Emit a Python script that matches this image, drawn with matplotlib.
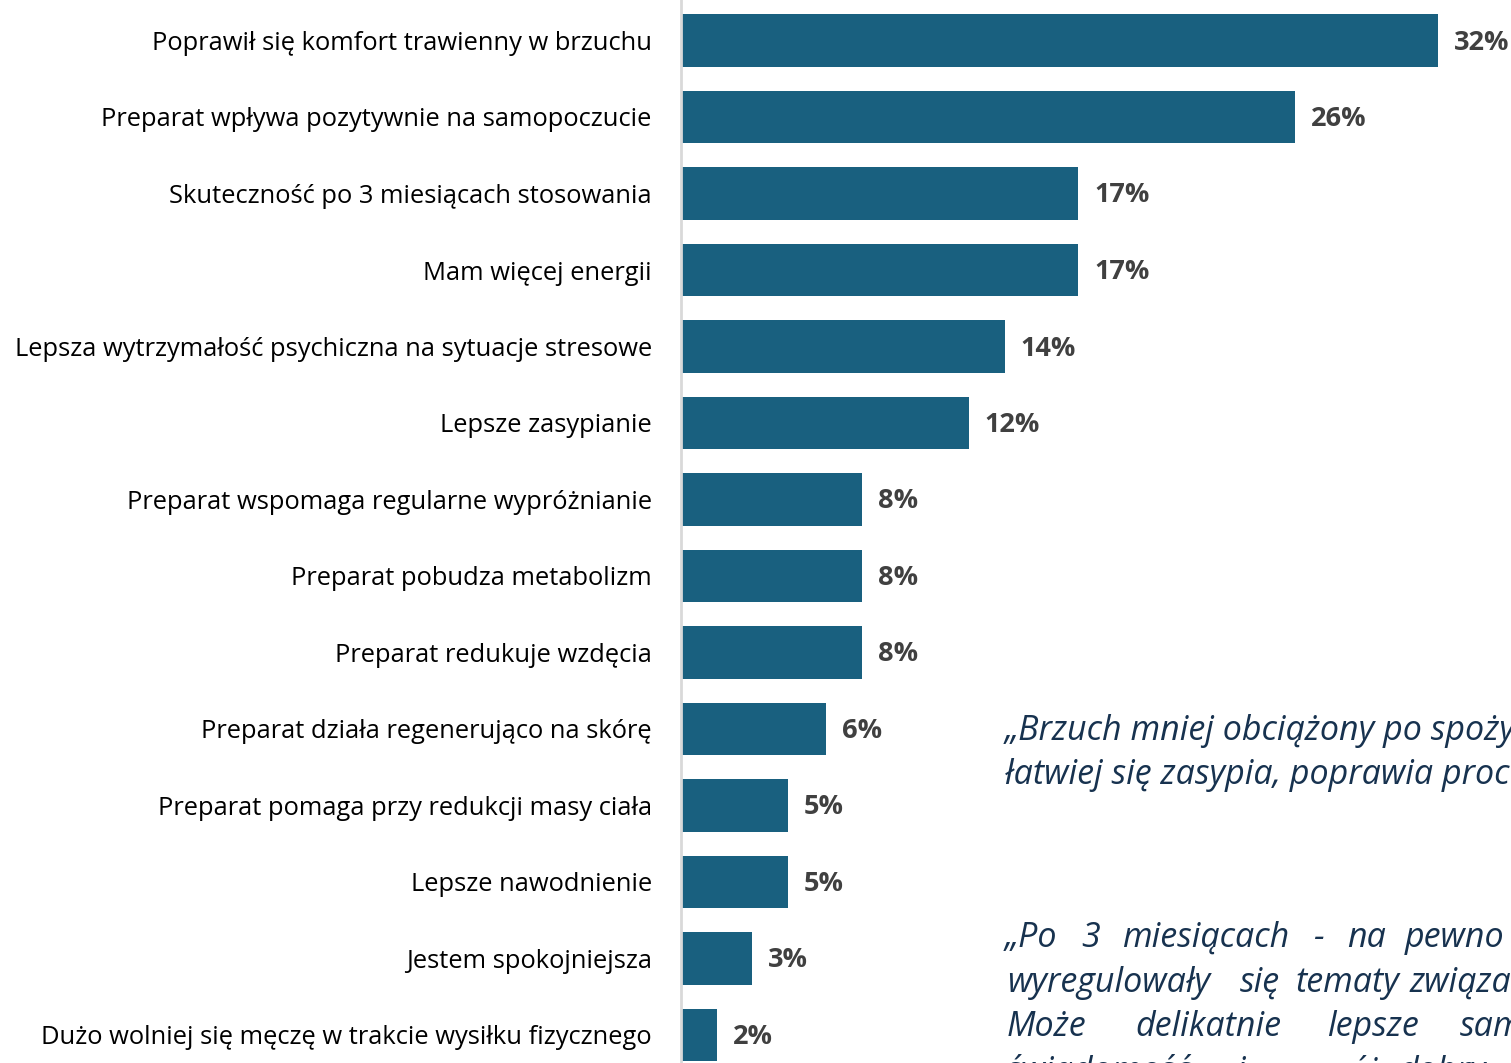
import matplotlib
matplotlib.use("Agg")
import matplotlib.pyplot as plt

categories = [
    "Poprawił się komfort trawienny w brzuchu",
    "Preparat wpływa pozytywnie na samopoczucie",
    "Skuteczność po 3 miesiącach stosowania",
    "Mam więcej energii",
    "Lepsza wytrzymałość psychiczna na sytuacje stresowe",
    "Lepsze zasypianie",
    "Preparat wspomaga regularne wypróżnianie",
    "Preparat pobudza metabolizm",
    "Preparat redukuje wzdęcia",
    "Preparat działa regenerująco na skórę",
    "Preparat pomaga przy redukcji masy ciała",
    "Lepsze nawodnienie",
    "Jestem spokojniejsza",
    "Dużo wolniej się męczę w trakcie wysiłku fizycznego",
]
values = [31.8, 25.8, 16.7, 16.7, 13.6, 12.1, 7.6, 7.6, 7.6, 6.1, 4.5, 4.5, 3.0, 1.5]
value_labels = ["32%", "26%", "17%", "17%", "14%", "12%", "8%", "8%", "8%", "6%", "5%", "5%", "3%", "2%"]

quote1_lines = [
    "„Brzuch mniej obciążony po spożyciu,",
    "łatwiej się zasypia, poprawia proces",
]
quote2_words = [
    ["„Po", "3", "miesiącach", "-", "na", "pewno"],
    ["wyregulowały", "się", "tematy", "związane"],
    ["Może", "delikatnie", "lepsze", "samopoczucie"],
    ["świadomość", "i", "mój", "dobry", "nastrój"],
]

W, H = 1511, 1063
fig = plt.figure(figsize=(W / 100, H / 100), dpi=100)
x0 = 681
ax = fig.add_axes([x0 / W, 0, 1 - x0 / W, 1])

BAR = "#19607F"
n = len(categories)
pitch = 76.5
c0 = 40.5
ymin = (H - c0) / pitch
ymax = -c0 / pitch
xmax = (W - x0) / 23.79

pos = list(range(n))
ax.barh(pos, values, height=0.69, color=BAR, zorder=2)
ax.set_ylim(ymin, ymax)
ax.set_xlim(0, xmax)

for s in ["top", "right", "bottom"]:
    ax.spines[s].set_visible(False)
ax.spines["left"].set_color("#D9D9D9")
ax.spines["left"].set_linewidth(2)
ax.set_xticks([])
ax.set_yticks(pos)
ax.set_yticklabels(categories, fontsize=18.4, family="Open Sans", color="#000000")
ax.tick_params(axis="y", length=0, pad=21)

for i, (v, lab) in enumerate(zip(values, value_labels)):
    ax.annotate(lab, (v, i), xytext=(16, -2), textcoords="offset pixels",
                va="center", ha="left", fontsize=19.5, fontweight="bold",
                family="Open Sans", color="#404040")

qcolor = "#17324F"
qkw = dict(fontsize=24.5, style="italic", family="Open Sans", color=qcolor,
           va="center", ha="left", clip_on=False)
# quote 1
fig.text(1005 / W, 1 - 731 / H, quote1_lines[0], **qkw)
fig.text(1005 / W, 1 - 775 / H, quote1_lines[1], **qkw)
# quote 2 (justified words)
word_x = [
    [1005, 1081, 1122, 1313, 1347, 1405],
    [1007, 1240, 1295, 1410],
    [1007, 1135, 1327, 1460],
    [1007, 1236, 1320, 1398, 1490],
]
line_y = [938, 983, 1027, 1072]
for words, xs, y in zip(quote2_words, word_x, line_y):
    for w, x in zip(words, xs):
        fig.text(x / W, 1 - y / H, w, **qkw)

fig.savefig("out.png", dpi=100)
